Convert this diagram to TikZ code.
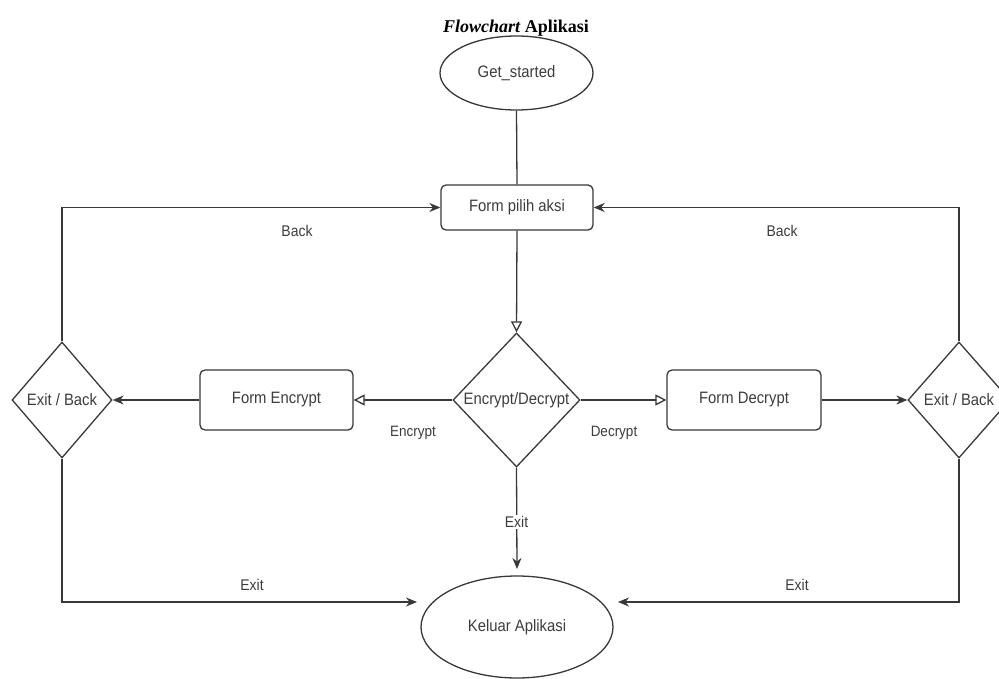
\documentclass[tikz,border=0pt]{standalone}
\usepackage{fontspec}
\setmainfont{Liberation Serif}
\newfontfamily\diafont[FakeStretch=0.9]{Liberation Sans}
\usetikzlibrary{shapes.geometric,arrows.meta}
\definecolor{lc}{HTML}{383838}
\definecolor{tc}{HTML}{3C3C3C}
\tikzset{
  ln/.style={draw=lc, line width=1.3pt},
  txt/.style={text=tc, font=\diafont\fontsize{16.5}{18}\selectfont, inner sep=1pt},
  lbl/.style={text=tc, font=\diafont\fontsize{15.5}{17}\selectfont, inner sep=1pt},
  rbox/.style={ln, txt, rectangle, rounded corners=5pt, inner sep=0pt},
  ell/.style={ln, txt, ellipse, inner sep=0pt},
  dia/.style={ln, diamond, inner sep=0pt},
  fa/.style={ln, -{Stealth[length=11pt,width=9pt,inset=3.5pt]}},
  oa/.style={ln, -{Triangle[open,length=11pt,width=11pt,fill=white]}},
}
\begin{document}
\begin{tikzpicture}[x=1pt,y=-1pt]
\useasboundingbox (0,0) rectangle (999,679);
\clip (0,0) rectangle (999,679);
% title
\node[font=\fontsize{18}{20}\selectfont\bfseries, inner sep=0pt] (title) at (516,28) {\textit{Flowchart} Aplikasi};
% nodes
\node[ell, minimum width=153pt, minimum height=74pt] (gs) at (516.5,73) {Get\_started};
\node[rbox, minimum width=152pt, minimum height=45pt] (fp) at (517,207.5) {Form pilih aksi};
\node[dia, minimum width=127pt, minimum height=134pt] (ed) at (516.5,400) {};
\node[txt] (edt) at (516.5,400) {Encrypt/Decrypt};
\node[rbox, minimum width=153pt, minimum height=60pt] (fe) at (276.5,400) {Form Encrypt};
\node[rbox, minimum width=154pt, minimum height=60pt] (fd) at (744,400) {Form Decrypt};
\node[dia, minimum width=100pt, minimum height=116pt] (lb) at (62,400) {};
\node[txt] (lbt) at (62,400) {Exit / Back};
\node[dia, minimum width=102pt, minimum height=116pt] (rb) at (959,400) {};
\node[txt] (rbt) at (959,400) {Exit / Back};
\node[ell, minimum width=192pt, minimum height=102pt] (ke) at (517,627) {Keluar Aplikasi};
\coordinate (kl) at (417,602);
\coordinate (kr) at (618,602);
\coordinate (kt) at (517,569);
% connectors
\draw[ln] (gs.south) -- (fp.north);
\draw[oa] (fp.south) -- (ed.north);
\draw[oa] (ed.west) -- (fe.east);
\draw[oa] (ed.east) -- (fd.west);
\draw[fa] (fe.west) -- (lb.east);
\draw[fa] (fd.east) -- (rb.west);
\draw[fa] (lb.north) |- (fp.west);
\draw[fa] (rb.north) |- (fp.east);
\draw[fa] (lb.south) |- (kl);
\draw[fa] (rb.south) |- (kr);
\draw[fa] (ed.south) -- (kt);
% labels
\node[lbl] (lback) at (297,231) {Back};
\node[lbl] (rback) at (782,231) {Back};
\node[lbl, font=\diafont\fontsize{15}{17}\selectfont] (lenc) at (413,433) {Encrypt};
\node[lbl, font=\diafont\fontsize{15}{17}\selectfont] (ldec) at (614,433) {Decrypt};
\node[lbl, fill=white] (lexit) at (516.5,522) {Exit};
\node[lbl] (lexl) at (252,585) {Exit};
\node[lbl] (lexr) at (797,585) {Exit};
\end{tikzpicture}
\end{document}
